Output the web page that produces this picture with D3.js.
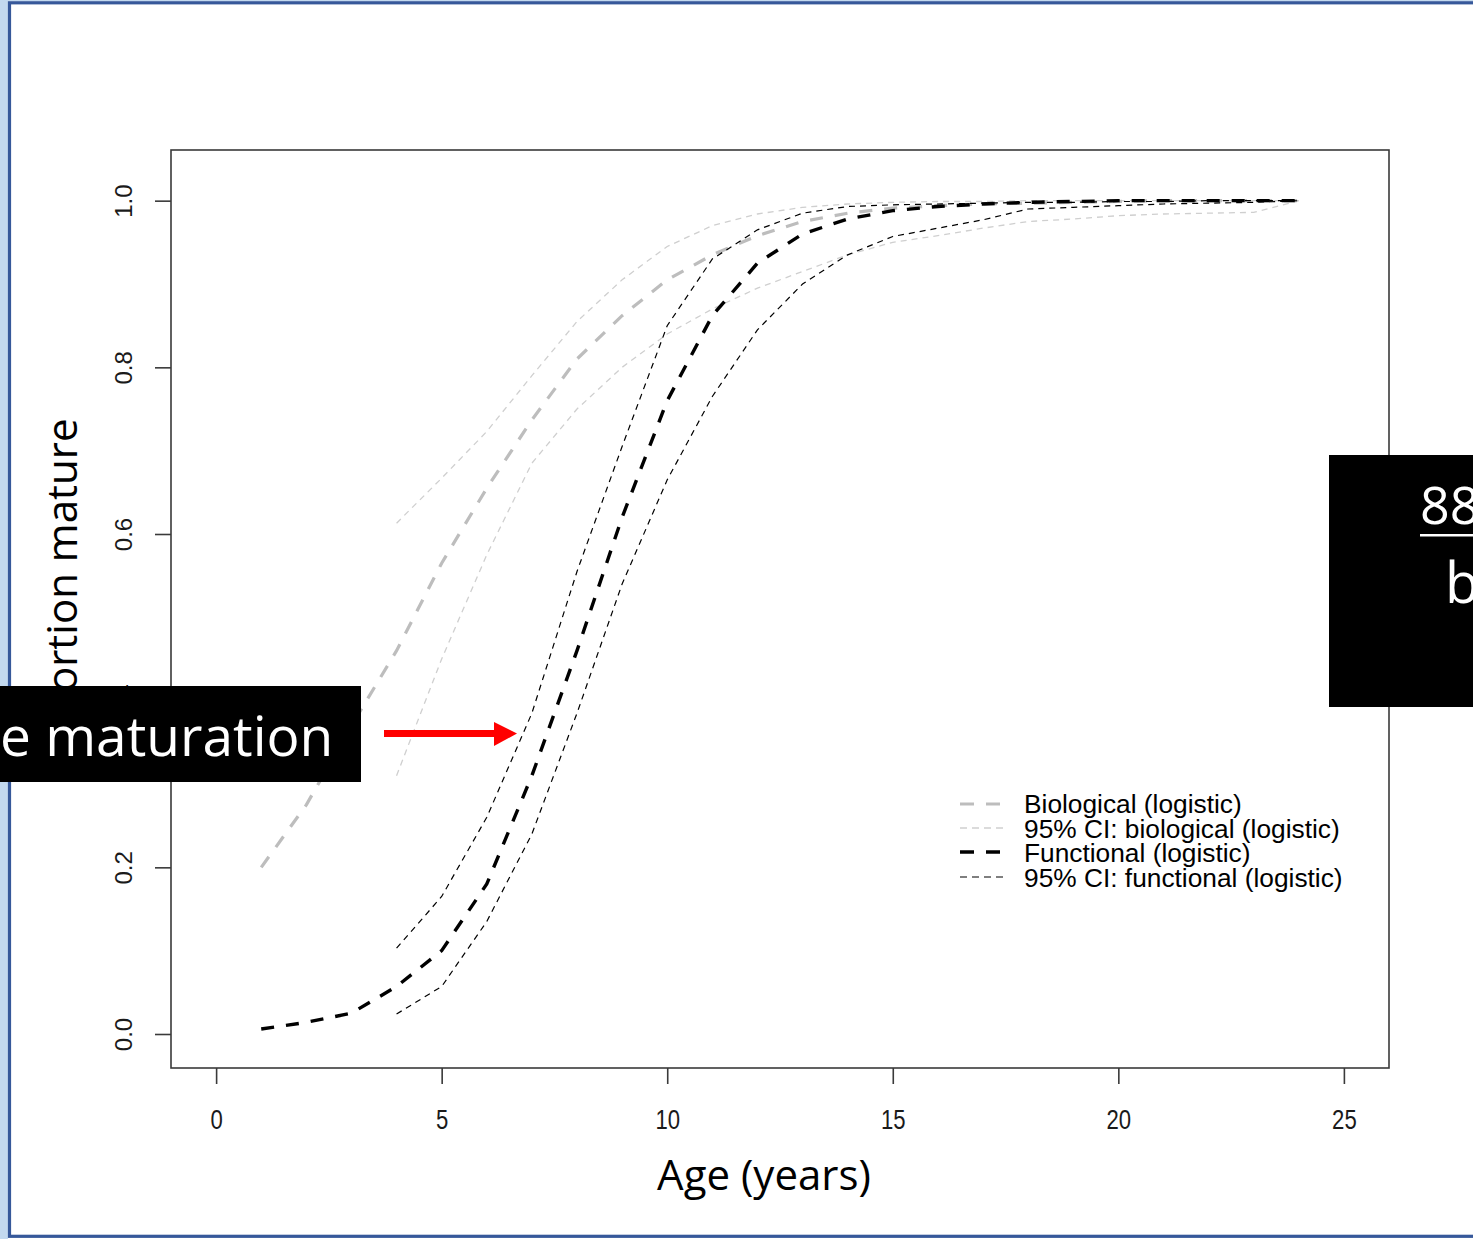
<!DOCTYPE html>
<html>
<head>
<meta charset="utf-8">
<script src="https://cdn.jsdelivr.net/npm/d3@7"></script>
<style>
  html, body { margin: 0; padding: 0; background: #fff; overflow: hidden; }
  svg { display: block; }
</style>
</head>
<body>
<svg id="chart" width="1473" height="1239"></svg>
<script>
// ---------------- data ----------------
const ages = [1,2,3,4,5,6,7,8,9,10,11,12,13,14,15,16,17,18,19,20,21,22,23,24];
const ciAges = [4,5,6,7,8,9,10,11,12,13,14,15,16,17,18,19,20,21,22,23,24];

const biological = [0.200,0.275,0.370,0.460,0.565,0.655,0.737,0.810,0.862,0.905,0.935,0.958,0.975,0.985,0.991,0.994,0.996,0.997,0.998,0.999,1.000,1.000,1.000,1.000];
const bioUpper   = [0.613,0.667,0.723,0.790,0.855,0.905,0.945,0.970,0.984,0.992,0.996,0.998,0.999,0.999,1.000,1.000,1.000,1.000,1.000,1.000,1.000];
const bioLower   = [0.310,0.450,0.575,0.685,0.750,0.800,0.840,0.870,0.895,0.915,0.935,0.950,0.958,0.967,0.975,0.978,0.982,0.984,0.985,0.986,1.000];

const functional = [0.006,0.014,0.025,0.057,0.100,0.180,0.310,0.460,0.620,0.760,0.862,0.925,0.960,0.978,0.988,0.993,0.996,0.998,0.999,1.000,1.000,1.000,1.000,1.000];
const funUpper   = [0.103,0.165,0.260,0.385,0.555,0.705,0.850,0.930,0.965,0.985,0.993,0.995,0.996,0.997,0.998,0.998,0.999,0.999,1.000,1.000,1.000];
const funLower   = [0.024,0.057,0.135,0.240,0.385,0.540,0.665,0.765,0.845,0.900,0.935,0.957,0.967,0.977,0.990,0.992,0.994,0.996,0.997,0.998,1.000];

const xTicks = [0,5,10,15,20,25];
const yTicks = [0.0,0.2,0.4,0.6,0.8,1.0];
const yTickLabels = ["0.0","0.2","0.4","0.6","0.8","1.0"];

const legendLabels = ["Biological (logistic)","95% CI: biological (logistic)","Functional (logistic)","95% CI: functional (logistic)"];

const xTitle = "Age (years)";
const yTitle = "Proportion mature";
const leftBoxText = "e maturation";
const rightBoxLines = ["88", "b"];

// ---------------- layout ----------------
const svg = d3.select("#chart");
const box = {left:171, right:1389, top:150, bottom:1068};
const x = d3.scaleLinear().domain([-1, 26]).range([box.left, box.right]);
const y = d3.scaleLinear().domain([-0.0408, 1.0608]).range([box.bottom, box.top]);

// slide frame
svg.append("rect").attr("x",0).attr("y",0).attr("width",8).attr("height",1239).attr("fill","#c3d9ef");
svg.append("rect").attr("x",0).attr("y",0).attr("width",1473).attr("height",1.2).attr("fill","#c3d9ef");
svg.append("rect").attr("x",9.5).attr("y",2.8).attr("width",1500).attr("height",1233.5)
   .attr("fill","none").attr("stroke","#36589a").attr("stroke-width",3.2);

// plot box
svg.append("rect").attr("x",box.left).attr("y",box.top)
   .attr("width",box.right-box.left).attr("height",box.bottom-box.top)
   .attr("fill","none").attr("stroke","#3a3a3a").attr("stroke-width",1.6);

// x axis
const xAxis = d3.axisBottom(x).tickValues(xTicks).tickSize(16).tickPadding(26).tickFormat(d3.format("d"));
const gx = svg.append("g").attr("transform",`translate(0,${box.bottom})`).call(xAxis);
gx.select(".domain").remove();
gx.selectAll(".tick line").attr("stroke","#3a3a3a").attr("stroke-width",1.6);
gx.selectAll(".tick text").attr("font-family","'Liberation Sans', Arial, sans-serif")
  .attr("font-size",27).attr("fill","#1a1a1a")
  .attr("transform","scale(0.82,1)");

// y axis (rotated labels like R)
const yAxis = d3.axisLeft(y).tickValues(yTicks).tickSize(16).tickFormat((d,i)=>yTickLabels[i]);
const gy = svg.append("g").attr("transform",`translate(${box.left},0)`).call(yAxis);
gy.select(".domain").remove();
gy.selectAll(".tick line").attr("stroke","#3a3a3a").attr("stroke-width",1.6);
gy.selectAll(".tick text")
  .attr("font-family","'Liberation Sans', Arial, sans-serif")
  .attr("font-size",24).attr("fill","#1a1a1a")
  .attr("text-anchor","middle").attr("dy",null)
  .attr("x",null)
  .attr("transform","translate(-39,0) rotate(-90)");

// titles
svg.append("text").attr("x",764).attr("y",1190).attr("text-anchor","middle")
   .attr("font-family","'Open Sans', sans-serif").attr("font-size",42).attr("fill","#000")
   .text(xTitle);
svg.append("text").attr("transform","translate(77,602) rotate(-90)").attr("text-anchor","middle")
   .attr("font-family","'Open Sans', sans-serif").attr("font-size",42).attr("fill","#000")
   .text(yTitle);

// curves
const line = d3.line().x(d=>x(d[0])).y(d=>y(d[1]));
const series = [
  {xs:ciAges, ys:bioUpper,  color:"#cfcfcf", w:1.3, dash:"6,5"},
  {xs:ciAges, ys:bioLower,  color:"#cfcfcf", w:1.3, dash:"6,5"},
  {xs:ages,   ys:biological,color:"#bdbdbd", w:3.2, dash:"13,12"},
  {xs:ciAges, ys:funUpper,  color:"#000",    w:1.2, dash:"6,5"},
  {xs:ciAges, ys:funLower,  color:"#000",    w:1.2, dash:"6,5"},
  {xs:ages,   ys:functional,color:"#000",    w:3.4, dash:"13,12"}
];
series.forEach(s=>{
  svg.append("path").datum(s.xs.map((a,i)=>[a,s.ys[i]]))
     .attr("d",line).attr("fill","none").attr("stroke",s.color)
     .attr("stroke-width",s.w).attr("stroke-dasharray",s.dash);
});

// legend
const legendStyles = [
  {color:"#bdbdbd", w:3.2, dash:"14,12"},
  {color:"#cfcfcf", w:1.3, dash:"7,5"},
  {color:"#000",    w:3.4, dash:"14,12"},
  {color:"#000",    w:1.2, dash:"7,5"}
];
const legLineY = [804,828,852,877];
const legTextY = [813,838,862,887];
legendLabels.forEach((lab,i)=>{
  svg.append("line").attr("x1",960).attr("x2",1003).attr("y1",legLineY[i]).attr("y2",legLineY[i])
     .attr("stroke",legendStyles[i].color).attr("stroke-width",legendStyles[i].w)
     .attr("stroke-dasharray",legendStyles[i].dash);
  svg.append("text").attr("x",1024).attr("y",legTextY[i])
     .attr("font-family","'Liberation Sans', Arial, sans-serif").attr("font-size",26.3).attr("fill","#000")
     .text(lab);
});

// overlay: left black label box
svg.append("rect").attr("x",0).attr("y",686).attr("width",361).attr("height",96).attr("fill","#000");
svg.append("text").attr("x",0).attr("y",756)
   .attr("font-family","'Open Sans', sans-serif").attr("font-size",55).attr("fill","#fff")
   .text(leftBoxText);

// red arrow
svg.append("rect").attr("x",384).attr("y",730).attr("width",112).attr("height",7).attr("fill","#ff0000");
svg.append("path").attr("d","M494,722 L517,733.5 L494,746 Z").attr("fill","#ff0000");

// overlay: right black box
svg.append("rect").attr("x",1329).attr("y",455).attr("width",200).attr("height",252).attr("fill","#000");
svg.append("text").attr("x",1420).attr("y",524)
   .attr("font-family","'Open Sans', sans-serif").attr("font-size",52).attr("fill","#fff")
   .text(rightBoxLines[0]);
svg.append("rect").attr("x",1420).attr("y",534).attr("width",60).attr("height",2.5).attr("fill","#fff");
svg.append("text").attr("x",1445).attr("y",603)
   .attr("font-family","'Open Sans', sans-serif").attr("font-size",56).attr("fill","#fff")
   .text(rightBoxLines[1]);
</script>
</body>
</html>
